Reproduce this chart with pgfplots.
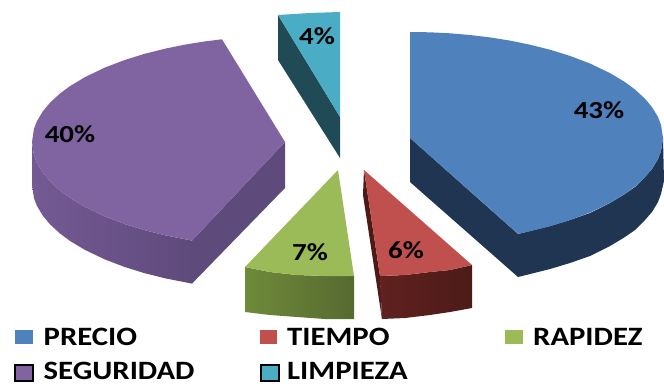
\documentclass[border=0pt]{standalone}
\usepackage{pgfplots}
\pgfplotsset{compat=1.18}
\usepackage{fontspec}
\setmainfont{Carlito}
\definecolor{cBlue}{HTML}{4F81BD}
\definecolor{cBlueS}{HTML}{1F3552}
\definecolor{cRed}{HTML}{C0504D}
\definecolor{cRedL}{HTML}{60211F}
\definecolor{cRedD}{HTML}{4C1B18}
\definecolor{cGreen}{HTML}{9BBB59}
\definecolor{cGreenL}{HTML}{6F8A3A}
\definecolor{cGreenD}{HTML}{566A30}
\definecolor{cPurple}{HTML}{8064A2}
\definecolor{cPurpleL}{HTML}{745A93}
\definecolor{cPurpleD}{HTML}{5F4A7C}
\definecolor{cTeal}{HTML}{4BACC6}
\definecolor{cTealS}{HTML}{204A55}
% Labels are set in a bold face, stretched a little sideways
\newcommand{\pct}[1]{\scalebox{1.18}[1]{\fontsize{24.5}{24.5}\selectfont\bfseries #1}}
\newcommand{\leg}[1]{\scalebox{1.16}[1]{\fontsize{26.5}{26.5}\selectfont\bfseries #1}}
\begin{document}
\begin{tikzpicture}
\path[use as bounding box] (0,0) rectangle (664pt,386pt);
\begin{axis}[
  at={(0,0)}, anchor=south west,
  scale only axis, width=664pt, height=386pt,
  xmin=0, xmax=664, ymin=0, ymax=386, y dir=reverse,
  hide axis, clip=true, no marks,
  every axis plot/.append style={draw=none, line width=0pt},
]
% PRECIO, 43%
\addplot[fill=cBlueS] coordinates {(410,138)(518,234)(530,231)(550,226)(570,220)(590,213)(610,203)(625,194)(635,187)(645,177)(652,169)(658,159)(661,151)(663,138)(664,181)(661,194)(658,202)(652,212)(645,220)(635,230)(625,237)(610,246)(590,256)(570,263)(550,269)(530,274)(518,277)(410,182)} -- cycle;
\addplot[fill=cBlue] coordinates {(410,32)(430,32.3)(450,33.3)(470,35)(490,37.4)(510,40.6)(530,44.7)(550,49.7)(570,55.9)(590,63.5)(610,73.1)(625,82.1)(635,89.5)(645,98.7)(652,107.1)(658,117)(661,124.7)(663,138)(661,151.3)(658,159)(652,168.9)(645,177.3)(635,186.5)(625,193.9)(610,202.9)(590,212.5)(570,220.1)(550,226.3)(530,231.3)(518,233.9)(410,138)} -- cycle;
% SEGURIDAD, 40%
\addplot[left color=cPurpleL, right color=cPurpleD] coordinates {(192,240.6)(165,235.3)(145,230.3)(125,224.1)(105,216.5)(85,206.9)(70,197.9)(60,190.5)(50,181.3)(43,172.9)(37,163)(34,155.3)(32,142)(32,185)(34,198.3)(37,206)(43,215.9)(50,224.3)(60,233.5)(70,240.9)(85,249.9)(105,259.5)(125,267.1)(145,273.3)(165,278.3)(192,283.6)} -- cycle;
\addplot[fill=cPurpleD] coordinates {(285,142)(192,240.6)(192,283.6)(285,188)} -- cycle;
\addplot[fill=cPurple] coordinates {(222,39.3)(205,41.4)(185,44.6)(165,48.7)(145,53.7)(125,59.9)(105,67.5)(85,77.1)(70,86.1)(60,93.5)(50,102.7)(43,111.1)(37,121)(34,128.7)(32,142)(34,155.3)(37,163)(43,172.9)(50,181.3)(60,190.5)(70,197.9)(85,206.9)(105,216.5)(125,224.1)(145,230.3)(165,235.3)(192,240.6)(285,142)} -- cycle;
% LIMPIEZA, 4%
\addplot[fill=cTealS] coordinates {(278,15)(340,117)(340,158)(278,60)} -- cycle;
\addplot[fill=cTeal] coordinates {(278,15)(310,13)(340,12)(340,117)} -- cycle;
% RAPIDEZ, 7%
\addplot[left color=cGreenL, right color=cGreenD] coordinates {(245,267)(270,272)(297,275)(325,276)(354,276)(354,319)(325,319)(297,317)(270,315)(245,312)} -- cycle;
\addplot[fill=cGreen] coordinates {(338,170)(245,267)(270,272)(297,275)(325,276)(354,276)} -- cycle;
% TIEMPO, 6%
\addplot[fill=cRedD] coordinates {(364,170)(380,276)(382,319)(363,195)} -- cycle;
\addplot[left color=cRedL, right color=cRedD] coordinates {(380,276)(405,275)(430,272)(450,270)(472,265)(472,308)(450,312)(430,315)(405,318)(382,319)} -- cycle;
\addplot[fill=cRed] coordinates {(364,170)(472,265)(450,270)(430,272)(405,275)(380,276)} -- cycle;
% Legend keys
\addplot[fill=cBlue] coordinates {(14.5,330)(33,330)(33,344)(14.5,344)} -- cycle;
\addplot[fill=cRed] coordinates {(260,330)(277,330)(277,344)(260,344)} -- cycle;
\addplot[fill=cGreen] coordinates {(505,330)(523,330)(523,344)(505,344)} -- cycle;
\addplot[fill=cPurple, draw=black, line width=1.2pt] coordinates {(15,365)(33,365)(33,381)(15,381)} -- cycle;
\addplot[fill=cTeal, draw=black, line width=1.2pt] coordinates {(261,365)(279,365)(279,381)(261,381)} -- cycle;
% Value labels
\node at (axis cs:599,110) {\pct{43\%}};
\node at (axis cs:70,134) {\pct{40\%}};
\node at (axis cs:317,36) {\pct{4\%}};
\node at (axis cs:310,252) {\pct{7\%}};
\node at (axis cs:406,250) {\pct{6\%}};
% Legend text
\node[anchor=west, inner sep=0pt] at (axis cs:43.5,336.5) {\leg{PRECIO}};
\node[anchor=west, inner sep=0pt] at (axis cs:287,336.5) {\leg{TIEMPO}};
\node[anchor=west, inner sep=0pt] at (axis cs:533,336.5) {\leg{RAPIDEZ}};
\node[anchor=west, inner sep=0pt] at (axis cs:43.5,370.5) {\leg{SEGURIDAD}};
\node[anchor=west, inner sep=0pt] at (axis cs:287,370.5) {\leg{LIMPIEZA}};
\end{axis}
\end{tikzpicture}
\end{document}
